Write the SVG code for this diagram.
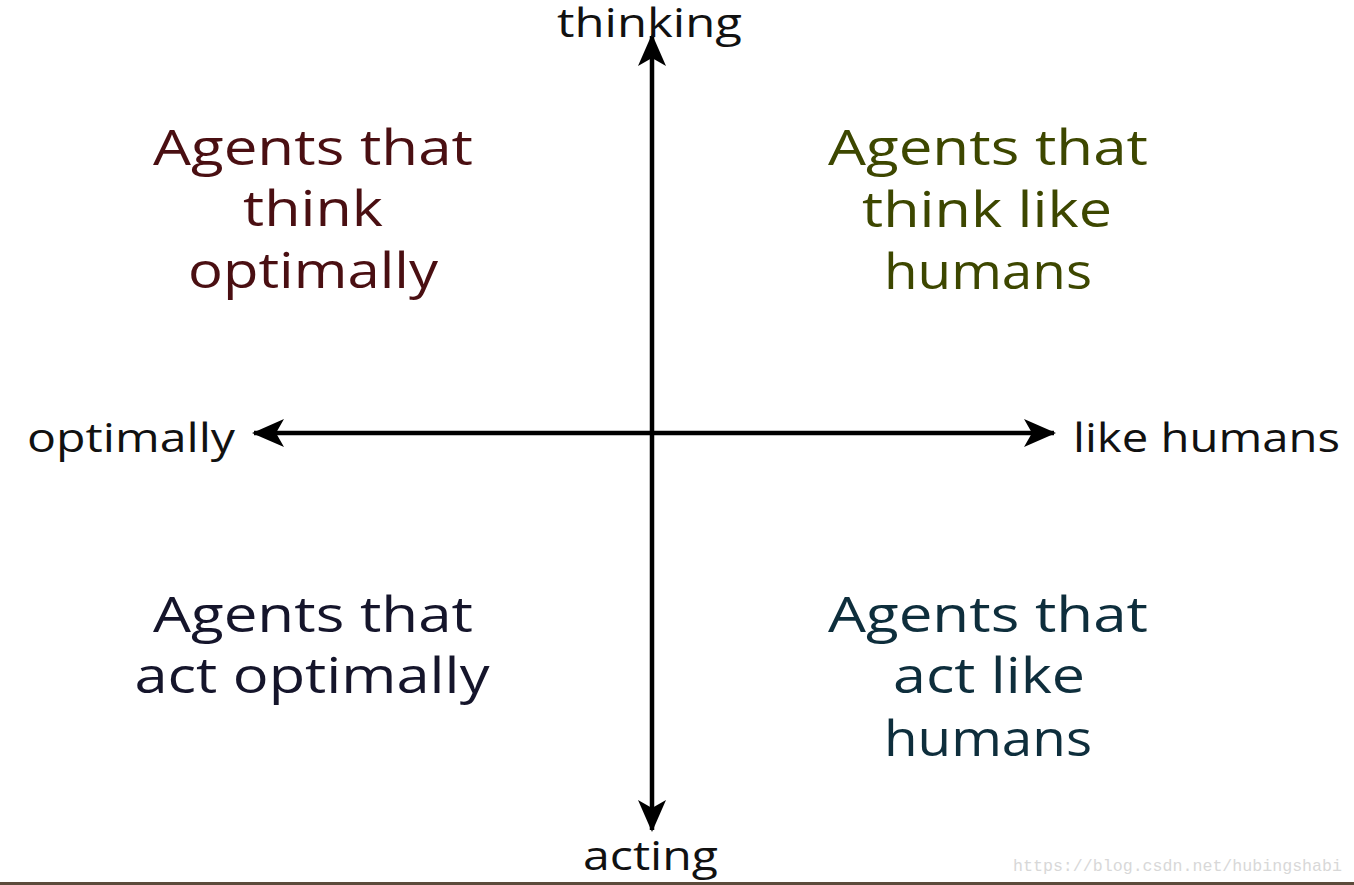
<svg xmlns="http://www.w3.org/2000/svg" width="1354" height="885" viewBox="0 0 1354 885">
<defs>
<style>
.q{font-family:"Open Sans","DejaVu Sans",sans-serif;font-size:50px;text-anchor:middle}
.ax{font-family:"Open Sans","DejaVu Sans",sans-serif;font-size:40px;fill:#111}
.axis{stroke:#000;stroke-width:4.5;fill:none}
.wm{font-family:"Liberation Mono",monospace;font-size:17px;fill:#d8d8d8}
</style>
<marker id="ah" viewBox="0 0 32 30" refX="30" refY="15" markerWidth="32" markerHeight="30" markerUnits="userSpaceOnUse" orient="auto">
<path d="M0,1 L32,15 L0,29 L8,15 Z" fill="#000"/>
</marker>
</defs>
<rect width="1354" height="885" fill="#fff"/>
<g id="connectors">
<line class="axis" x1="652" y1="433" x2="652" y2="36" marker-end="url(#ah)"/>
<line class="axis" x1="652" y1="433" x2="652" y2="830" marker-end="url(#ah)"/>
<line class="axis" x1="652" y1="433" x2="254" y2="433" marker-end="url(#ah)"/>
<line class="axis" x1="652" y1="433" x2="1054" y2="433" marker-end="url(#ah)"/>
</g>
<g id="thinking"><text class="ax" x="557" y="37" textLength="185" lengthAdjust="spacingAndGlyphs">thinking</text></g>
<g id="acting"><text class="ax" x="583" y="870" textLength="135" lengthAdjust="spacingAndGlyphs">acting</text></g>
<g id="optimally"><text class="ax" x="27" y="452" textLength="208" lengthAdjust="spacingAndGlyphs">optimally</text></g>
<g id="like-humans"><text class="ax" x="1073" y="452" textLength="267" lengthAdjust="spacingAndGlyphs">like humans</text></g>
<g id="think-optimally" fill="#4a0f12">
<text class="q" x="313" y="165" textLength="320" lengthAdjust="spacingAndGlyphs">Agents that</text>
<text class="q" x="313" y="226" textLength="140" lengthAdjust="spacingAndGlyphs">think</text>
<text class="q" x="313" y="288" textLength="250" lengthAdjust="spacingAndGlyphs">optimally</text>
</g>
<g id="think-humans" fill="#3d4700">
<text class="q" x="988" y="165" textLength="320" lengthAdjust="spacingAndGlyphs">Agents that</text>
<text class="q" x="987" y="227" textLength="250" lengthAdjust="spacingAndGlyphs">think like</text>
<text class="q" x="988" y="289" textLength="208" lengthAdjust="spacingAndGlyphs">humans</text>
</g>
<g id="act-optimally" fill="#15152b">
<text class="q" x="313" y="632" textLength="320" lengthAdjust="spacingAndGlyphs">Agents that</text>
<text class="q" x="312" y="693" textLength="355" lengthAdjust="spacingAndGlyphs">act optimally</text>
</g>
<g id="act-humans" fill="#0e2e3c">
<text class="q" x="988" y="632" textLength="320" lengthAdjust="spacingAndGlyphs">Agents that</text>
<text class="q" x="989" y="693" textLength="192" lengthAdjust="spacingAndGlyphs">act like</text>
<text class="q" x="988" y="756" textLength="208" lengthAdjust="spacingAndGlyphs">humans</text>
</g>
<text class="wm" x="1013" y="871" textLength="329" lengthAdjust="spacingAndGlyphs">https://blog.csdn.net/hubingshabi</text>
<rect x="0" y="882" width="1354" height="3" fill="#5c4b3b"/>
</svg>
